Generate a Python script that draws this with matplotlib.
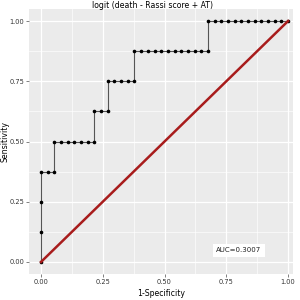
import numpy as np
import matplotlib
matplotlib.use('Agg')
import matplotlib.pyplot as plt

# ROC points (1-specificity, sensitivity)
n_neg = 37
fpr_counts = [0, 0, 0, 0, 1, 2, 2, 3, 4, 5, 6, 7, 8, 8, 9, 10, 10, 11, 12, 13, 14,
              14, 15, 16, 17, 18, 19, 20, 21, 22, 23, 24, 25,
              25, 26, 27, 28, 29, 30, 31, 32, 33, 34, 35, 36, 37]
tpr_vals = [0, 0.125, 0.25, 0.375, 0.375, 0.375, 0.5, 0.5, 0.5, 0.5, 0.5, 0.5, 0.5,
            0.625, 0.625, 0.625, 0.75, 0.75, 0.75, 0.75, 0.75,
            0.875, 0.875, 0.875, 0.875, 0.875, 0.875, 0.875, 0.875, 0.875, 0.875, 0.875, 0.875,
            1, 1, 1, 1, 1, 1, 1, 1, 1, 1, 1, 1, 1]
fpr_vals = [c / n_neg for c in fpr_counts]

diag_x = [0, 1]
diag_y = [0, 1]

title = 'logit (death - Rassi score + AT)'
auc_text = 'AUC=0.3007'
ticks = [0, 0.25, 0.5, 0.75, 1.0]
tick_labels = ['0.00', '0.25', '0.50', '0.75', '1.00']
minor = [0.125, 0.375, 0.625, 0.875]

fig = plt.figure(figsize=(3, 3), dpi=100)
ax = fig.add_axes([29/300, 1-274/300, 264/300, 265/300])
ax.set_facecolor('#EBEBEB')
for s in ax.spines.values():
    s.set_visible(False)

for v in ticks:
    ax.axvline(v, color='white', lw=0.9, zorder=0)
    ax.axhline(v, color='white', lw=0.9, zorder=0)
for v in minor:
    ax.axvline(v, color='white', lw=0.45, zorder=0)
    ax.axhline(v, color='white', lw=0.45, zorder=0)

ax.plot(fpr_vals, tpr_vals, color='#555555', lw=0.8, zorder=2)
ax.plot(fpr_vals, tpr_vals, 'o', color='black', ms=1.6, zorder=3)
ax.plot(diag_x, diag_y, color='#A81C1C', lw=1.8, zorder=4)

ax.text(0.80, 0.048, auc_text, fontsize=5, ha='center', va='center', color='#222222',
        bbox=dict(boxstyle='square,pad=0.5', fc='white', ec='none'), zorder=5)

ax.set_xlim(-0.0486, 1.02)
ax.set_ylim(-0.05, 1.05)
ax.set_xticks(ticks)
ax.set_xticklabels(tick_labels)
ax.set_yticks(ticks)
ax.set_yticklabels(tick_labels)
ax.tick_params(labelsize=4.8, colors='#4D4D4D', length=2, width=0.5, pad=1.5)
for lab in ax.get_xticklabels() + ax.get_yticklabels():
    lab.set_color('#333333')

fig.text(0.016, 1-141/300, 'Sensitivity', rotation=90, fontsize=5.6, ha='center', va='center')
fig.text(161/300, 1-294/300, '1-Specificity', fontsize=5.6, ha='center', va='center')
fig.text(153/300, 1-5/300, title, fontsize=5.6, ha='center', va='center')

fig.savefig('out.png', dpi=100)
